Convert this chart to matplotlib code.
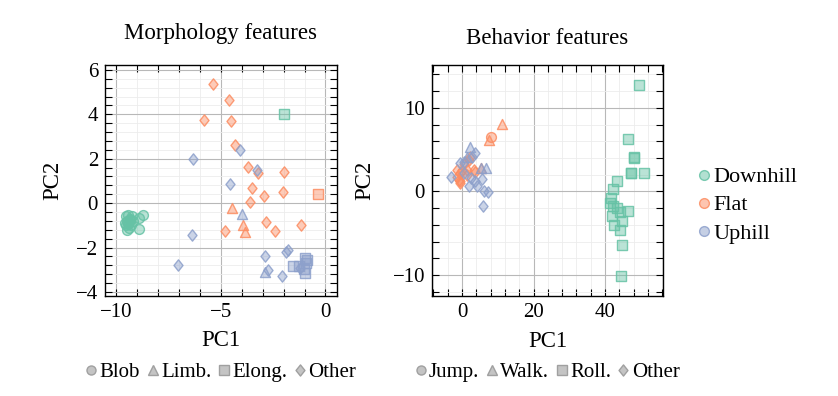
import numpy as np
import matplotlib
matplotlib.use("Agg")
import matplotlib.pyplot as plt
from matplotlib.colors import to_rgba
from matplotlib.lines import Line2D
from matplotlib.path import Path
from matplotlib.ticker import MultipleLocator

plt.rcParams["font.family"] = ["Liberation Serif", "DejaVu Serif"]

terrains = ["Downhill", "Flat", "Uphill"]
terrain_colors = ["#66c2a5", "#fc8d62", "#8da0cb"]

# morphology panel: shape classes
morph_shapes = ["Blob", "Limb.", "Elong.", "Other"]
morph_down_x = [-9.55, -9.5, -9.45, -9.4, -9.35, -9.5, -9.6, -9.3, -9.45, -9.2,
                -8.9, -8.75, -8.9, -9.4, -9.55, -9.35, -9.25, -2.0]
morph_down_y = [-0.6, -0.8, -0.95, -1.1, -0.7, -1.2, -0.9, -1.0, -0.55, -0.8,
                -0.65, -0.55, -1.15, -0.85, -1.0, -0.75, -0.6, 4.0]
morph_down_shape = ["Blob"] * 17 + ["Elong."]

morph_flat_x = [-5.36, -4.64, -5.79, -4.51, -4.35, -3.73, -3.23, -2.0, -3.52, -2.96,
                -2.05, -3.59, -2.85, -2.4, -1.15, -4.82, -4.48, -3.94, -3.83, -0.38]
morph_flat_y = [5.36, 4.65, 3.74, 3.68, 2.6, 1.62, 1.35, 1.38, 0.67, 0.3,
                0.5, 0.03, -0.84, -1.25, -0.98, -1.25, -0.2, -0.98, -1.32, 0.4]
morph_flat_shape = ["Other"] * 16 + ["Limb."] * 3 + ["Elong."]

morph_up_x = [-6.34, -4.11, -3.26, -4.55, -6.39, -7.07, -2.91, -1.87, -1.79, -2.75,
              -2.08, -1.2, -3.98, -2.9, -1.55, -0.99, -0.88, -1.01, -0.96, -1.28, -0.92]
morph_up_y = [2.0, 2.37, 1.47, 0.84, -1.44, -2.78, -2.37, -2.18, -2.1, -3.0,
              -3.3, -2.93, -0.51, -3.1, -2.82, -2.48, -2.58, -2.97, -3.15, -2.82, -2.7]
morph_up_shape = ["Other"] * 12 + ["Limb."] * 2 + ["Elong."] * 7

# behavior panel: locomotion classes
behav_shapes = ["Jump.", "Walk.", "Roll.", "Other"]
behav_down_x = [49.4, 46.3, 48.0, 48.0, 47.2, 47.3, 50.8, 43.3, 42.3, 41.6, 41.4,
                42.3, 43.3, 44.2, 46.5, 42.0, 44.8, 42.5, 44.2, 44.8, 44.4]
behav_down_y = [12.7, 6.3, 4.0, 4.1, 2.2, 2.2, 2.2, 1.27, 0.28, -0.79, -1.38,
                -1.78, -1.98, -2.49, -2.33, -2.97, -3.48, -4.04, -4.55, -6.37, -10.1]
behav_down_shape = ["Roll."] * 21

behav_flat_x = [-1.4, -0.93, -0.47, -0.6, 0.0, 2.3, 3.25, 1.4, -1.4, 1.86, 1.4, 3.7,
                0.5, -0.7, 5.3, 7.6, 11.2, 8.2]
behav_flat_y = [1.78, 1.39, 1.0, 2.18, 2.6, 4.08, 2.57, 1.98, 2.57, 3.76, 2.58, 2.38,
                3.3, 1.2, 2.8, 6.1, 8.1, 6.46]
behav_flat_shape = ["Other"] * 14 + ["Walk."] * 3 + ["Jump."]

behav_up_x = [-2.99, 1.86, 6.0, 6.2, 7.2, 4.2, 5.6, 3.7, -0.47, 0.46, 2.8, 3.7,
              0.46, 2.6, 2.3, 6.8, 1.4, 5.2]
behav_up_y = [1.78, 0.6, -1.78, 0.0, -0.1, 0.6, 1.5, 1.19, 3.37, 3.57, 4.16, 4.55,
              2.18, 1.58, 5.35, 2.78, 4.16, 2.8]
behav_up_shape = ["Other"] * 14 + ["Walk."] * 4

diamond = Path([(0, 1), (0.8, 0), (0, -1), (-0.8, 0), (0, 1)],
               [Path.MOVETO, Path.LINETO, Path.LINETO, Path.LINETO, Path.CLOSEPOLY])
marker_of = {"Blob": "o", "Jump.": "o", "Limb.": "^", "Walk.": "^",
             "Elong.": "s", "Roll.": "s", "Other": diamond}
size_of = {"Blob": 50, "Jump.": 50, "Limb.": 52, "Walk.": 52,
           "Elong.": 62, "Roll.": 62, "Other": 66}


def draw(ax, groups):
    for (xs, ys, shapes), c in zip(groups, terrain_colors):
        xs, ys, shapes = np.array(xs), np.array(ys), np.array(shapes)
        for sh in dict.fromkeys(shapes):
            k = shapes == sh
            ax.scatter(xs[k], ys[k], marker=marker_of[sh], s=size_of[sh],
                       facecolor=to_rgba(c, 0.45), edgecolor=to_rgba(c, 0.85),
                       linewidths=1.0, zorder=3)


def style(ax, xmaj, xmin, ymaj, ymin):
    ax.xaxis.set_major_locator(MultipleLocator(xmaj))
    ax.xaxis.set_minor_locator(MultipleLocator(xmin))
    ax.yaxis.set_major_locator(MultipleLocator(ymaj))
    ax.yaxis.set_minor_locator(MultipleLocator(ymin))
    ax.grid(which="major", color="#b8b8b8", lw=0.8, zorder=0)
    ax.grid(which="minor", color="#ececec", lw=0.6, zorder=0)
    ax.set_axisbelow(True)
    ax.tick_params(which="both", direction="in", top=True, right=True,
                   length=5, width=0.8, labelsize=15, pad=5)
    for sp in ax.spines.values():
        sp.set_linewidth(1.0)
    ax.set_xlabel("PC1", fontsize=16.5)
    ax.set_ylabel("PC2", fontsize=16.5)
    ax.xaxis.set_label_coords(0.5, -0.15)


fig = plt.figure(figsize=(8.38, 3.96), dpi=100)
ax1 = fig.add_axes([0.1253, 0.2533, 0.2768, 0.5826])
ax2 = fig.add_axes([0.5155, 0.2525, 0.276, 0.583])

draw(ax1, [(morph_down_x, morph_down_y, morph_down_shape),
           (morph_flat_x, morph_flat_y, morph_flat_shape),
           (morph_up_x, morph_up_y, morph_up_shape)])
draw(ax2, [(behav_down_x, behav_down_y, behav_down_shape),
           (behav_flat_x, behav_flat_y, behav_flat_shape),
           (behav_up_x, behav_up_y, behav_up_shape)])

style(ax1, 5, 1, 2, 0.4)
style(ax2, 20, 4, 10, 2)
ax1.set_xlim(-10.55, 0.55)
ax1.set_ylim(-4.17, 6.22)
ax2.set_xlim(-8.4, 56.3)
ax2.set_ylim(-12.5, 15.1)
ax1.yaxis.set_label_coords(-0.181, 0.5)
ax2.yaxis.set_label_coords(-0.246, 0.5)

fig.text(0.2637, 0.915, "Morphology features", ha="center", va="center", fontsize=16.5)
fig.text(0.6533, 0.903, "Behavior features", ha="center", va="center", fontsize=16.5)

# terrain legend
th = [Line2D([], [], ls="", marker="o", markersize=7,
             markerfacecolor=to_rgba(c, 0.5), markeredgecolor=to_rgba(c, 0.85))
      for c in terrain_colors]
fig.legend(th, terrains, loc="center left", bbox_to_anchor=(0.8205, 0.482),
           frameon=False, fontsize=16, handlelength=0.5, handletextpad=0.15,
           labelspacing=0.34, borderpad=0)

# shape legends
def shape_legend(names, xc):
    hs = [Line2D([], [], ls="", marker=marker_of[n], markersize=6.5 if n != "Other" else 8,
                 markerfacecolor="#c4c4c4", markeredgecolor="#a0a0a0")
          for n in names]
    fig.legend(hs, names, loc="center", bbox_to_anchor=(xc, 0.06), ncol=4,
               frameon=False, fontsize=15, handlelength=0.5, handletextpad=0.15,
               columnspacing=0.35, borderpad=0)

shape_legend(morph_shapes, 0.2637)
shape_legend(behav_shapes, 0.6533)

fig.savefig("out.png", dpi=100)
